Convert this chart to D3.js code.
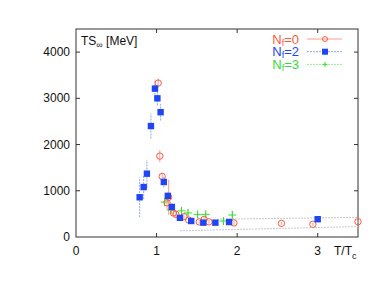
<!DOCTYPE html>
<html>
<head>
<meta charset="utf-8">
<script src="https://cdn.jsdelivr.net/npm/d3@7"></script>
<style>
  body { margin: 0; background: #fff; }
  svg text { font-family: "Liberation Sans", Arial, sans-serif; }
</style>
</head>
<body>
<div class="mainDiv"></div>
<script>
// data: [T/Tc, TS_inf (MeV), error]
const nf0 = [[1.02,3330,100],[1.04,1750,130],[1.07,1310,80],[1.13,740,150],[1.15,860,380],
  [1.21,520,60],[1.24,490,60],[1.34,440,50],[1.40,365,40],[1.53,328,40],[1.59,382,50],
  [1.65,328,40],[1.96,305,40],[2.55,295,30],[2.94,275,30],[3.5,331,30]];
const nf2 = [[0.79,860,430],[0.84,1080,260],[0.88,1370,300],[0.93,2400,270],[0.98,3210,200],
  [1.01,3000,150],[1.05,2700,180],[1.09,1190,120],[1.14,890,100],[1.19,650,80],[1.29,415,60],
  [1.43,346,50],[1.58,310,40],[1.73,310,40],[1.90,324,40],[3.0,385,40]];
const nf3 = [[1.10,757,100],[1.18,584,80],[1.31,565,80],[1.39,520,80],[1.51,490,80],
  [1.61,490,80],[1.83,346,80],[1.94,475,100]];
const bandLow = [[1.29,135],[3.5,225]];
const bandHigh = [[1.75,385],[3.5,425]];
const xTicks = [0,1,2,3];
const yTicks = [0,1000,2000,3000,4000];
const legendNames = ["0","2","3"];

const colors = {nf0: "#ff5a40", nf2: "#1f45f5", nf3: "#33dd33"};
const barColors = {nf0: "#ff9c88", nf2: "#8fa2f5", nf3: "#99ee99"};

const svg = d3.select('.mainDiv').append('svg')
  .attr('width', 382).attr('height', 283);

const margin = {left: 76, right: 24, top: 29, bottom: 46};
const x = d3.scaleLinear().domain([0,3.5]).range([margin.left, 382-margin.right]);
const y = d3.scaleLinear().domain([0,4500]).range([283-margin.bottom, margin.top]);

// frame
svg.append('rect')
  .attr('x', x(0)).attr('y', y(4500))
  .attr('width', x(3.5)-x(0)).attr('height', y(0)-y(4500))
  .attr('fill', 'none').attr('stroke', '#333').attr('stroke-width', 1);

// ticks (inward, mirrored)
const tl = 4;
xTicks.forEach(t => {
  if (t > 0) {
    svg.append('line').attr('x1', x(t)).attr('x2', x(t)).attr('y1', y(0)).attr('y2', y(0)-tl).attr('stroke', '#333');
    svg.append('line').attr('x1', x(t)).attr('x2', x(t)).attr('y1', y(4500)).attr('y2', y(4500)+tl).attr('stroke', '#333');
  }
  svg.append('text').attr('x', x(t)).attr('y', y(0)+18).attr('text-anchor', 'middle')
    .attr('font-size', 12).attr('fill', '#111').text(t);
});
yTicks.forEach(t => {
  if (t > 0) {
    svg.append('line').attr('x1', x(0)).attr('x2', x(0)+tl).attr('y1', y(t)).attr('y2', y(t)).attr('stroke', '#333');
    svg.append('line').attr('x1', x(3.5)).attr('x2', x(3.5)-tl).attr('y1', y(t)).attr('y2', y(t)).attr('stroke', '#333');
  }
  svg.append('text').attr('x', x(0)-6).attr('y', y(t)+4).attr('text-anchor', 'end')
    .attr('font-size', 12).attr('fill', '#111').text(t);
});

// axis labels
const xl = svg.append('text').attr('x', x(3.5)-24).attr('y', y(0)+18)
  .attr('font-size', 12).attr('fill', '#111');
xl.append('tspan').text('T/T');
xl.append('tspan').attr('dy', 4).attr('font-size', 9).text('c');

const yl = svg.append('text').attr('x', x(0)+5).attr('y', y(4500)+16)
  .attr('font-size', 12).attr('fill', '#111');
yl.append('tspan').text('TS');
yl.append('tspan').attr('dy', 3).attr('font-size', 9).text('\u221e');
yl.append('tspan').attr('dy', -3).text(' [MeV]');

// band lines
const line = d3.line().x(d => x(d[0])).y(d => y(d[1]));
[bandLow, bandHigh].forEach(b => {
  svg.append('path').attr('d', line(b)).attr('fill', 'none')
    .attr('stroke', '#c8c8c8').attr('stroke-width', 1).attr('stroke-dasharray', '2,1');
});

// error bars
function errBars(data, key, dash) {
  svg.append('g').selectAll('line').data(data).join('line')
    .attr('x1', d => x(d[0])).attr('x2', d => x(d[0]))
    .attr('y1', d => y(d[1]-d[2])).attr('y2', d => y(d[1]+d[2]))
    .attr('stroke', barColors[key]).attr('stroke-width', 1)
    .attr('stroke-dasharray', dash);
}
errBars(nf0, 'nf0', null);
errBars(nf2, 'nf2', '2,1');
errBars(nf3, 'nf3', null);

// Nf=3 plus
function plus(g, cx, cy, s) {
  g.append('line').attr('x1', cx-s).attr('x2', cx+s).attr('y1', cy).attr('y2', cy);
  g.append('line').attr('x1', cx).attr('x2', cx).attr('y1', cy-s).attr('y2', cy+s);
}
const g3 = svg.append('g').attr('stroke', colors.nf3).attr('stroke-width', 1);
nf3.forEach(d => plus(g3, x(d[0]), y(d[1]), 4));

// Nf=0 circles
svg.append('g').selectAll('circle').data(nf0).join('circle')
  .attr('cx', d => x(d[0])).attr('cy', d => y(d[1])).attr('r', 3.2)
  .attr('fill', 'none').attr('stroke', colors.nf0).attr('stroke-width', 1);

// Nf=2 squares
svg.append('g').selectAll('rect').data(nf2).join('rect')
  .attr('x', d => x(d[0])-3.2).attr('y', d => y(d[1])-3.2)
  .attr('width', 6.4).attr('height', 6.4).attr('fill', colors.nf2);

// legend
const keys = ['nf0','nf2','nf3'];
keys.forEach((k, i) => {
  const ly = 39 + i*12.7;
  const t = svg.append('text').attr('x', 299).attr('y', ly+4.5).attr('text-anchor', 'end')
    .attr('font-size', 13).attr('fill', colors[k]);
  t.append('tspan').text('N');
  t.append('tspan').attr('dy', 2).attr('font-size', 9).text('f');
  t.append('tspan').attr('dy', -2).text('=' + legendNames[i]);
  svg.append('line').attr('x1', 307).attr('x2', 342).attr('y1', ly).attr('y2', ly)
    .attr('stroke', barColors[k]).attr('stroke-width', 1)
    .attr('stroke-dasharray', k === 'nf0' ? null : '2,1');
  if (k === 'nf0') {
    svg.append('circle').attr('cx', 325).attr('cy', ly).attr('r', 2.5)
      .attr('fill', 'none').attr('stroke', colors.nf0);
  } else if (k === 'nf2') {
    svg.append('rect').attr('x', 322).attr('y', ly-3).attr('width', 6).attr('height', 6)
      .attr('fill', colors.nf2);
  } else {
    const gl = svg.append('g').attr('stroke', colors.nf3);
    plus(gl, 325, ly, 2.5);
  }
});
</script>
</body>
</html>
